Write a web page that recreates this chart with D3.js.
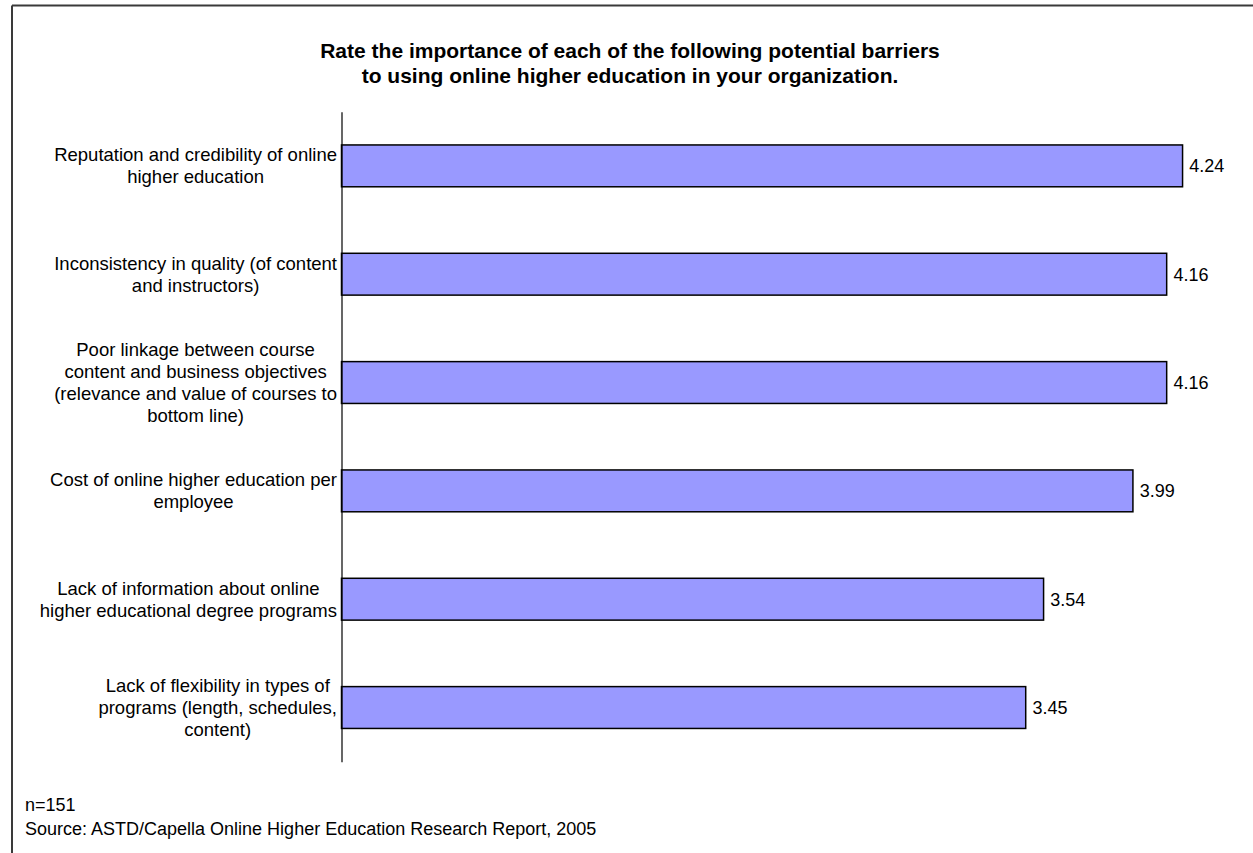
<!DOCTYPE html>
<html>
<head>
<meta charset="utf-8">
<script src="https://cdn.jsdelivr.net/npm/d3@7"></script>
<style>
  html, body { margin: 0; padding: 0; background: #fff; }
  svg { display: block; font-family: "Liberation Sans", Arial, sans-serif; }
</style>
</head>
<body>
<svg id="chart" width="1253" height="853"></svg>
<script>
// Barrier categories, each split into its printed lines
const categories = [
  ["Reputation and credibility of online", "higher education"],
  ["Inconsistency in quality (of content", "and instructors)"],
  ["Poor linkage between course", "content and business objectives", "(relevance and value of courses to", "bottom line)"],
  ["Cost of online higher education per", "employee"],
  ["Lack of information about online", "higher educational degree programs"],
  ["Lack of flexibility in types of", "programs (length, schedules,", "content)"]
];
// Mean importance rating for each barrier
const ratings = [4.24, 4.16, 4.16, 3.99, 3.54, 3.45];
const titleLines = [
  "Rate the importance of each of the following potential barriers",
  "to using online higher education in your organization."
];
const notes = ["n=151", "Source: ASTD/Capella Online Higher Education Research Report, 2005"];

const svg = d3.select("#chart");

// Frame: top and left rules
svg.append("line").attr("x1", 12).attr("y1", 5.5).attr("x2", 1253).attr("y2", 5.5)
  .attr("stroke", "#3a3a3a").attr("stroke-width", 2);
svg.append("line").attr("x1", 12).attr("y1", 5.5).attr("x2", 12).attr("y2", 853)
  .attr("stroke", "#3a3a3a").attr("stroke-width", 2);

// Title
svg.append("g").selectAll("text").data(titleLines).join("text")
  .attr("x", 630).attr("y", (d, i) => 57.5 + i * 25)
  .attr("text-anchor", "middle")
  .attr("font-size", 21).attr("font-weight", "bold").attr("fill", "#000")
  .text(d => d);

const idx = d3.range(categories.length);
const x = d3.scaleLinear().domain([0, 5]).range([341.5, 341.5 + 5 * 198.54]);
const y = d3.scaleBand().domain(idx).range([111.7, 761.7]).paddingInner(0.6).paddingOuter(0.3);

// Bars
svg.append("g").selectAll("rect").data(ratings).join("rect")
  .attr("x", x(0))
  .attr("y", (d, i) => y(i) + 0.75)
  .attr("width", d => x(d) - x(0) - 0.75)
  .attr("height", y.bandwidth() - 1.5)
  .attr("fill", "#9999ff")
  .attr("stroke", "#000").attr("stroke-width", 1.5);

// Vertical category axis
const axis = svg.append("g").attr("transform", `translate(${x(0)},0)`)
  .call(d3.axisLeft(y).tickSize(0).tickSizeOuter(0).tickFormat(""));
axis.select(".domain").attr("stroke", "#000").attr("stroke-width", 1.2);

// Value labels
svg.append("g").selectAll("text").data(ratings).join("text")
  .attr("x", d => x(d) + 6)
  .attr("y", (d, i) => y(i) + y.bandwidth() / 2)
  .attr("dy", "0.35em")
  .attr("font-size", 18).attr("fill", "#000")
  .text(d => d.toFixed(2));

// Category labels: lines centred within a block right-aligned to the axis
const lineH = 21.7;
const labelG = svg.append("g");
categories.forEach((lines, i) => {
  const g = labelG.append("g");
  const cy = y(i) + y.bandwidth() / 2;
  const ts = g.selectAll("text").data(lines).join("text")
    .attr("y", (d, j) => cy + (j - (lines.length - 1) / 2) * lineH)
    .attr("dy", "0.35em")
    .attr("text-anchor", "middle")
    .attr("font-size", 18.5).attr("fill", "#000")
    .text(d => d);
  let maxW = 0;
  ts.each(function () { maxW = Math.max(maxW, this.getComputedTextLength()); });
  ts.attr("x", 337 - maxW / 2);
});

// Footnotes
svg.append("g").selectAll("text").data(notes).join("text")
  .attr("x", 25).attr("y", (d, i) => 811 + i * 24)
  .attr("font-size", 18).attr("fill", "#000")
  .text(d => d);
</script>
</body>
</html>
